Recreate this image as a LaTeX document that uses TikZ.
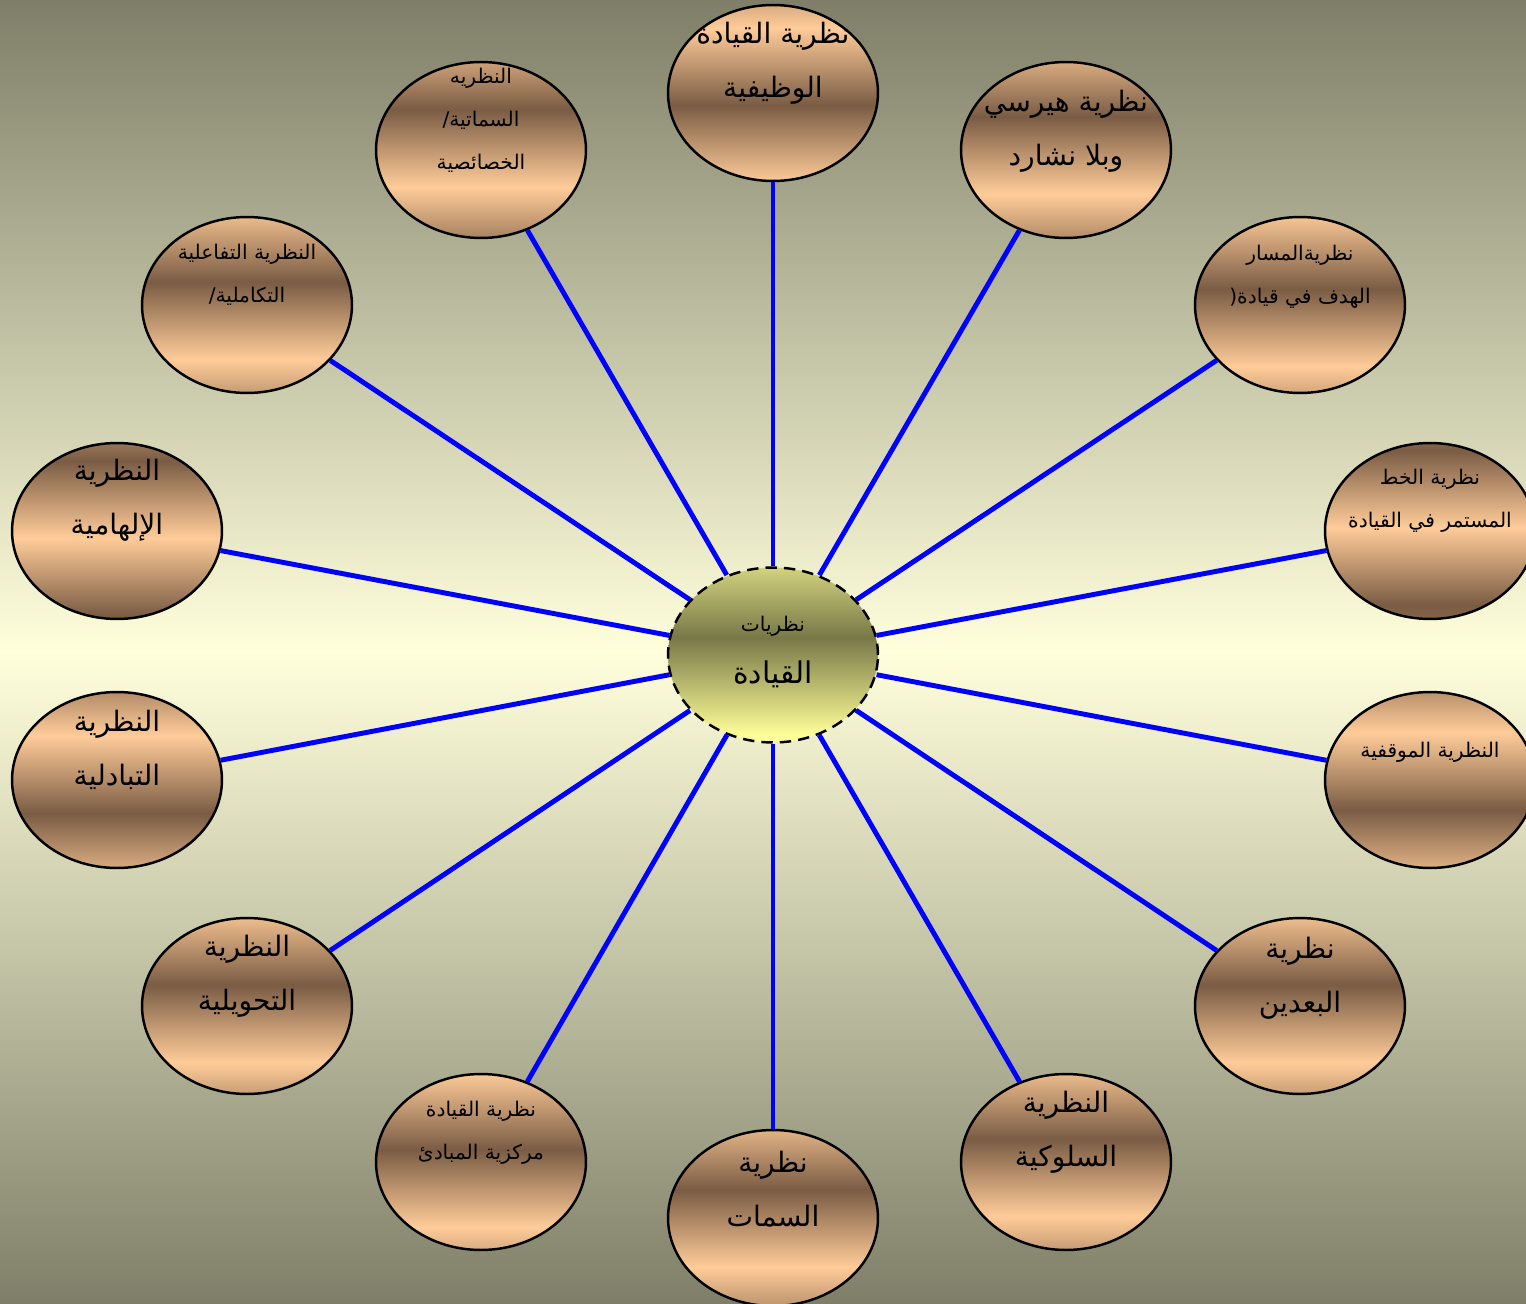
\documentclass[tikz,border=0pt]{standalone}
\usepackage{fontspec}
\usepackage{tikz}
\usetikzlibrary{shapes.geometric,positioning}
\TeXXeTstate=1
\newfontfamily\arabicfont[Script=Arabic]{DejaVu Sans}
\definecolor{bgedge}{HTML}{7F7F69}
\definecolor{bgmid}{HTML}{FFFFDC}
\definecolor{pklight}{HTML}{FFCC99}
\definecolor{pkdark}{HTML}{7A5C44}
\definecolor{pkmid}{HTML}{BC946E}
\definecolor{hublight}{HTML}{FFFF99}
\definecolor{hubdark}{HTML}{787848}
\definecolor{spokeblue}{HTML}{0000FF}

% reflected brown band: dark line at #2 (bp, 25 = bottom, 75 = top)
\newcommand\declpeach[2]{%
  \pgfmathsetmacro\pkA{#2-44}\pgfmathsetmacro\pkB{#2-22}%
  \pgfmathsetmacro\pkD{#2+22}\pgfmathsetmacro\pkE{#2+44}%
  \def\pkspec{color(0bp)=(pkmid)}%
  \ifdim\pkA pt>0pt \edef\pkspec{\pkspec; color(\pkA bp)=(pkdark)}\fi
  \ifdim\pkB pt>0pt \edef\pkspec{\pkspec; color(\pkB bp)=(pklight)}\fi
  \edef\pkspec{\pkspec; color(#2bp)=(pkdark)}%
  \ifdim\pkD pt<100pt \edef\pkspec{\pkspec; color(\pkD bp)=(pklight)}\fi
  \ifdim\pkE pt<100pt \edef\pkspec{\pkspec; color(\pkE bp)=(pkdark)}\fi
  \edef\pkspec{\pkspec; color(100bp)=(pkmid)}%
  \edef\pknext{\noexpand\pgfdeclareverticalshading{#1}{100bp}{\pkspec}}\pknext}
\declpeach{shFunc}{46.5}
\declpeach{shTraitAlt}{61.5}
\declpeach{shHersey}{59.5}
\declpeach{shInteg}{56.5}
\declpeach{shPath}{54.5}
\declpeach{shInsp}{70}
\declpeach{shCont}{73}
\declpeach{shExch}{40.5}
\declpeach{shSitu}{41.5}
\declpeach{shTrans}{56}
\declpeach{shTwoDim}{56}
\declpeach{shPrinc}{53.5}
\declpeach{shBehav}{56.5}
\declpeach{shTraits}{58}
\pgfdeclareverticalshading{shHub}{100bp}{color(0bp)=(hublight); color(27bp)=(hublight);
  color(55bp)=(hubdark); color(85bp)=(hublight); color(100bp)=(hublight)}

\begin{document}
\begin{tikzpicture}[x=0.02cm, y=-0.02cm,
  theory/.style={ellipse, draw, line width=1.4pt, shade,
    minimum width=4.2cm, minimum height=3.52cm, inner sep=0pt},
  hubnode/.style={ellipse, draw, dashed, dash pattern=on 6.5pt off 4pt,
    line width=1.4pt, shade, shading=shHub,
    minimum width=4.2cm, minimum height=3.5cm, inner sep=0pt},
  spoke/.style={draw=spokeblue, line width=2.8pt},
  bigtxt/.style={align=center, inner sep=0pt,
    font=\arabicfont\fontsize{16}{31}\selectfont},
  smalltxt/.style={align=center, inner sep=0pt,
    font=\arabicfont\fontsize{11.5}{24.5}\selectfont}]
\shade[top color=bgedge, bottom color=bgedge, middle color=bgmid]
  (0,0) rectangle (1526,1304);
\useasboundingbox (0,0) rectangle (1526,1304);

\node[hubnode] (hub) at (773,655) {};
\node[theory, shading=shFunc] (nFunc) at (773,93) {};
\node[theory, shading=shTraitAlt] (nTraitAlt) at (481,150) {};
\node[theory, shading=shHersey] (nHersey) at (1066,150) {};
\node[theory, shading=shInteg] (nInteg) at (247,305) {};
\node[theory, shading=shPath] (nPath) at (1300,305) {};
\node[theory, shading=shInsp] (nInsp) at (117,531) {};
\node[theory, shading=shCont] (nCont) at (1430,531) {};
\node[theory, shading=shExch] (nExch) at (117,780) {};
\node[theory, shading=shSitu] (nSitu) at (1430,780) {};
\node[theory, shading=shTrans] (nTrans) at (247,1006) {};
\node[theory, shading=shTwoDim] (nTwoDim) at (1300,1006) {};
\node[theory, shading=shPrinc] (nPrinc) at (481,1162) {};
\node[theory, shading=shBehav] (nBehav) at (1066,1162) {};
\node[theory, shading=shTraits] (nTraits) at (773,1218) {};

\foreach \n in {nFunc,nTraitAlt,nHersey,nInteg,nPath,nInsp,nCont,
  nExch,nSitu,nTrans,nTwoDim,nPrinc,nBehav,nTraits}
  \draw[spoke] (hub) -- (\n);

% texts
\node[align=center, inner sep=0pt, font=\arabicfont\fontsize{17}{30}\selectfont]
  (tHub) at ([yshift=0.6mm]hub)
  {{\fontsize{11.5}{20}\selectfont\beginR نظريات\endR}\\
   \beginR القيادة\endR};
\node[bigtxt] (tFunc) at ([yshift=6mm]nFunc)
  {\beginR نظرية القيادة\endR\\\beginR الوظيفية\endR};
\node[smalltxt] (tTraitAlt) at ([yshift=6mm]nTraitAlt)
  {\beginR النظريه\endR\\\beginR السماتية/\endR\\\beginR الخصائصية\endR};
\node[bigtxt] (tHersey) at ([yshift=3.8mm]nHersey)
  {\beginR نظرية هيرسي\endR\\\beginR وبلا نشارد\endR};
\node[smalltxt] (tInteg) at ([yshift=6mm]nInteg)
  {\beginR النظرية التفاعلية\endR\\\beginR التكاملية/\endR};
\node[smalltxt] (tPath) at ([yshift=5.6mm]nPath)
  {\beginR نظريةالمسار\endR\\\beginR الهدف في قيادة(\endR};
\node[bigtxt] (tInsp) at ([yshift=6.2mm]nInsp)
  {\beginR النظرية\endR\\\beginR الإلهامية\endR};
\node[smalltxt] (tCont) at ([yshift=6mm]nCont)
  {\beginR نظرية الخط\endR\\\beginR المستمر في القيادة\endR};
\node[bigtxt] (tExch) at ([yshift=6mm]nExch)
  {\beginR النظرية\endR\\\beginR التبادلية\endR};
\node[smalltxt] (tSitu) at ([yshift=5.6mm]nSitu)
  {\beginR النظرية الموقفية\endR};
\node[bigtxt] (tTrans) at ([yshift=6mm]nTrans)
  {\beginR النظرية\endR\\\beginR التحويلية\endR};
\node[bigtxt] (tTwoDim) at ([yshift=5.6mm]nTwoDim)
  {\beginR نظرية\endR\\\beginR البعدين\endR};
\node[smalltxt] (tPrinc) at ([yshift=5.8mm]nPrinc)
  {\beginR نظرية القيادة\endR\\\beginR مركزية المبادئ\endR};
\node[bigtxt] (tBehav) at ([yshift=6mm]nBehav)
  {\beginR النظرية\endR\\\beginR السلوكية\endR};
\node[bigtxt] (tTraits) at ([yshift=5.8mm]nTraits)
  {\beginR نظرية\endR\\\beginR السمات\endR};
\end{tikzpicture}
\end{document}
